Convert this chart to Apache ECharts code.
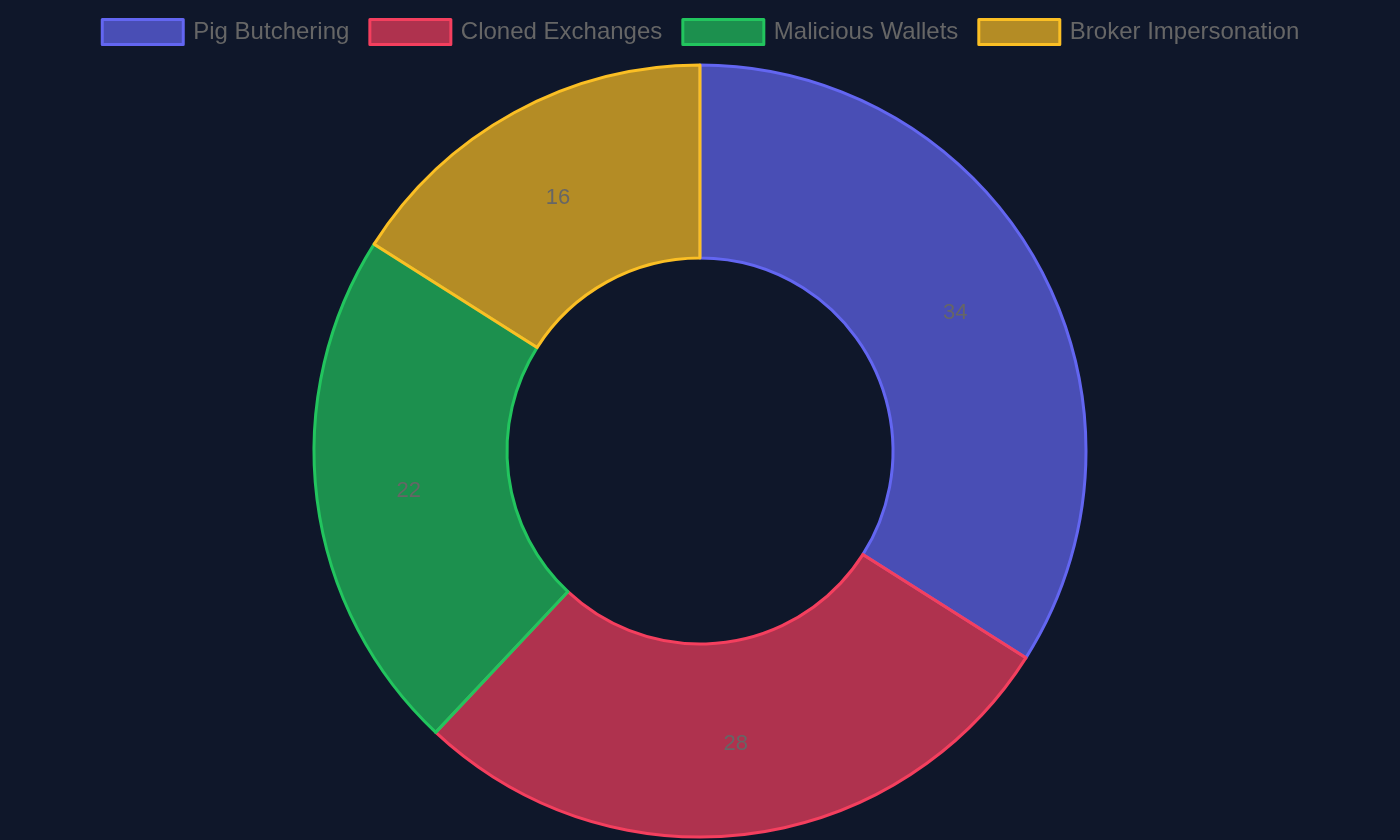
<!DOCTYPE html>
<html>
<head>
<meta charset="utf-8">
<script src="https://cdn.jsdelivr.net/npm/echarts@6/dist/echarts.min.js"></script>
<style>
    html, body { margin: 0; padding: 0; background: #0f172a; }
    #chart { width: 1400px; height: 840px; }
</style>
</head>
<body>
<div id="chart"></div>
<script>
// 数据
const categories = ['Pig Butchering', 'Cloned Exchanges', 'Malicious Wallets', 'Broker Impersonation'];
const values = [34, 28, 22, 16];
const borderColors = ['#6366f1', '#f43f5e', '#22c55e', '#fbbf24'];
const fillColors = ['rgba(99,102,241,0.7)', 'rgba(244,63,94,0.7)', 'rgba(34,197,94,0.7)', 'rgba(251,191,36,0.7)'];

const chart = echarts.init(document.getElementById('chart'));

const data = categories.map((name, i) => ({
    name: name,
    value: values[i],
    itemStyle: {
        color: fillColors[i],
        borderColor: borderColors[i],
        borderWidth: 3
    }
}));

// 图例项 (方形，带边框)
const legendData = categories.map((name, i) => ({
    name: name,
    icon: 'rect',
    itemStyle: {
        color: fillColors[i],
        borderColor: borderColors[i],
        borderWidth: 3
    }
}));

chart.setOption({
    backgroundColor: '#0f172a',
    animation: false,
    legend: {
        top: 13,
        left: 'center',
        itemWidth: 81,
        itemHeight: 25,
        itemGap: 19,
        textStyle: {
            color: '#666666',
            fontSize: 24,
            fontFamily: 'Liberation Sans, Arial, sans-serif',
            padding: [0, 0, 0, 5]
        },
        data: legendData
    },
    series: [{
        type: 'pie',
        center: [700, 451],
        radius: [193, 386],
        startAngle: 90,
        clockwise: true,
        label: {
            show: true,
            position: 'inside',
            formatter: '{c}',
            color: '#666666',
            fontSize: 22,
            fontFamily: 'Liberation Sans, Arial, sans-serif',
            offset: [-1, 3]
        },
        labelLine: { show: false },
        emphasis: { disabled: true },
        data: data
    }]
});
</script>
</body>
</html>
